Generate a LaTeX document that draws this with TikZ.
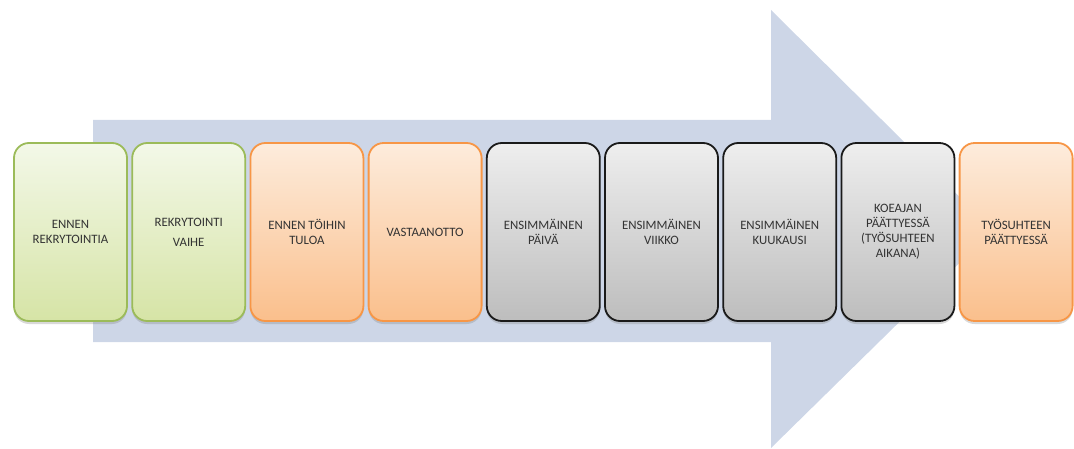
\documentclass[tikz,border=0pt]{standalone}
\usepackage{fontspec}
\setmainfont{Carlito}
\usetikzlibrary{shadows}
\definecolor{arrowblue}{HTML}{CDD6E7}
\definecolor{txtgray}{HTML}{333333}
\definecolor{grtop}{HTML}{F3F8E8}
\definecolor{grbot}{HTML}{D6E4A6}
\definecolor{grline}{HTML}{9BBB59}
\definecolor{ortop}{HTML}{FDECDC}
\definecolor{orbot}{HTML}{FABF8C}
\definecolor{orline}{HTML}{F79646}
\definecolor{gytop}{HTML}{EEEEEE}
\definecolor{gybot}{HTML}{BDBDBD}
\definecolor{gyline}{HTML}{1A1A1A}
\begin{document}
\begin{tikzpicture}[x=1pt,y=1pt,
  stage/.style={rounded corners=15pt, minimum width=113pt, minimum height=178pt,
    line width=1.8pt, align=center, inner sep=2pt, text=txtgray,
    font=\fontsize{12.8}{15}\selectfont,
    drop shadow={opacity=0.3, shadow xshift=0pt, shadow yshift=-3pt}},
  greenbox/.style={stage, draw=grline, top color=grtop, bottom color=grbot},
  orangebox/.style={stage, draw=orline, top color=ortop, bottom color=orbot},
  graybox/.style={stage, draw=gyline, top color=gytop, bottom color=gybot}]
\useasboundingbox (0,0) rectangle (1074,448);
\fill[arrowblue] (93,328) -- (771,328) -- (771,438) -- (993,218) -- (771,0) -- (771,106) -- (93,106) -- cycle;
\node[greenbox]  (b1) at (70.5,216)  {ENNEN\\REKRYTOINTIA};
\node[greenbox]  (b2) at (188.7,216) {REKRYTOINTI\\[5pt]VAIHE};
\node[orangebox] (b3) at (306.9,216) {ENNEN TÖIHIN\\TULOA};
\node[orangebox] (b4) at (425.1,216) {VASTAANOTTO};
\node[graybox]   (b5) at (543.3,216) {ENSIMMÄINEN\\PÄIVÄ};
\node[graybox]   (b6) at (661.5,216) {ENSIMMÄINEN\\VIIKKO};
\node[graybox]   (b7) at (779.7,216) {ENSIMMÄINEN\\KUUKAUSI};
\node[graybox]   (b8) at (897.9,216) {KOEAJAN\\PÄÄTTYESSÄ\\(TYÖSUHTEEN\\AIKANA)};
\node[orangebox] (b9) at (1016.1,216) {TYÖSUHTEEN\\PÄÄTTYESSÄ};
\end{tikzpicture}
\end{document}
